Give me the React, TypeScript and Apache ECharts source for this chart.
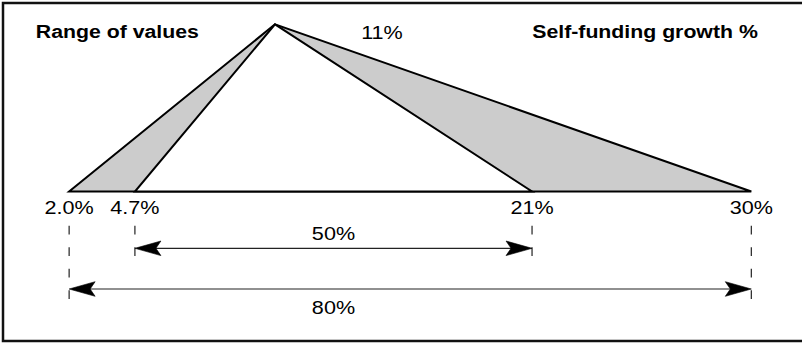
import React, { useEffect, useRef } from 'react';
import * as echarts from 'echarts';

// ---- data ----
const baseValues = [2.0, 4.7, 21, 30];
const baseLabels = ['2.0%', '4.7%', '21%', '30%'];
const outerRange = [2.0, 30];
const innerRange = [4.7, 21];
const apexPosition = 10.45; // where the apex sits on the growth scale
const apexLabel = '11%';
const spanLabels = ['50%', '80%'];
const spanFrom = [4.7, 2.0];
const spanTo = [21, 30];
const leftTitle = 'Range of values';
const rightTitle = 'Self-funding growth %';

// ---- layout constants ----
const W = 802;
const H = 343;
const X0 = 20.4;
const PX_PER = 24.364;
const XMAX = 32;
const BASE_Y = 191.5;
const APEX_Y = 24.3;
const FONT = '"Liberation Sans", Arial, Helvetica, sans-serif';
const REG_SIZE = 18;
const REG_SCALE = 1.2;
const BOLD_SIZE = 18.5;
const BOLD_SCALE = 1.15;
const LABEL_DY = 16.5;
const DASH_START_DY = 34.2;
const ROW_DY = [56.8, 97.5];
const ROW_LABEL_DY = [-14.3, 19];
const GRAY = '#cccccc';
const INK = '#000';

function regText(text: string, x: number, y: number) {
  return {
    type: 'text',
    x,
    y,
    scaleX: REG_SCALE,
    style: {
      text,
      fill: INK,
      fontFamily: FONT,
      fontSize: REG_SIZE,
      fontWeight: 'normal',
      align: 'center',
      verticalAlign: 'middle',
    },
  };
}

function arrowHead(tipX: number, y: number, dir: number) {
  // dir = 1 -> head pointing left (body to the right), -1 -> pointing right
  return {
    type: 'polygon',
    shape: {
      points: [
        [tipX, y],
        [tipX + dir * 26, y - 7.3],
        [tipX + dir * 21, y],
        [tipX + dir * 26, y + 7.3],
      ],
    },
    style: { fill: '#000', stroke: '#000', lineWidth: 0.6, lineJoin: 'miter' },
  };
}

export default function App() {
  const ref = useRef<HTMLDivElement>(null);

  useEffect(() => {
    if (!ref.current) return;
    const chart = echarts.init(ref.current, undefined, { renderer: 'svg' });

    const option: any = {
      animation: false,
      backgroundColor: '#ffffff',
      grid: {
        left: X0,
        right: W - X0 - XMAX * PX_PER,
        top: APEX_Y,
        bottom: H - BASE_Y,
      },
      xAxis: { type: 'value', min: 0, max: XMAX, show: false },
      yAxis: { type: 'value', min: 0, max: 1, show: false },
      graphic: [
        {
          type: 'rect',
          shape: { x: 3, y: 3, width: 820, height: 338 },
          style: { fill: 'none', stroke: '#111', lineWidth: 2.5 },
          z: 10,
        },
        {
          type: 'text',
          x: 117.3,
          y: 31.7,
          scaleX: BOLD_SCALE,
          style: {
            text: leftTitle,
            fill: INK,
            fontFamily: FONT,
            fontSize: BOLD_SIZE,
            fontWeight: 'bold',
            align: 'center',
            verticalAlign: 'middle',
          },
        },
        {
          type: 'text',
          x: 645,
          y: 31.7,
          scaleX: BOLD_SCALE,
          style: {
            text: rightTitle,
            fill: INK,
            fontFamily: FONT,
            fontSize: BOLD_SIZE,
            fontWeight: 'bold',
            align: 'center',
            verticalAlign: 'middle',
          },
        },
        {
          type: 'text',
          x: 382,
          y: 32.5,
          scaleX: REG_SCALE,
          style: {
            text: apexLabel,
            fill: INK,
            fontFamily: FONT,
            fontSize: REG_SIZE,
            fontWeight: 'normal',
            align: 'center',
            verticalAlign: 'middle',
          },
        },
      ],
      series: [
        {
          type: 'custom',
          name: 'triangle',
          data: [[apexPosition, 1]],
          encode: { x: 0, y: 1 },
          renderItem: (_params: any, api: any) => {
            const apex = api.coord([api.value(0), api.value(1)]);
            const oL = api.coord([outerRange[0], 0]);
            const oR = api.coord([outerRange[1], 0]);
            const iL = api.coord([innerRange[0], 0]);
            const iR = api.coord([innerRange[1], 0]);
            return {
              type: 'group',
              children: [
                {
                  type: 'polygon',
                  shape: { points: [apex, oL, oR] },
                  style: { fill: GRAY, stroke: '#000', lineWidth: 2, lineJoin: 'miter' },
                },
                {
                  type: 'polygon',
                  shape: { points: [apex, iL, iR] },
                  style: { fill: '#fff', stroke: '#000', lineWidth: 2, lineJoin: 'miter' },
                },
              ],
            };
          },
        },
        {
          type: 'custom',
          name: 'baseLabels',
          data: baseValues.map((v, i) => [v, 0, i]),
          encode: { x: 0, y: 1 },
          renderItem: (_params: any, api: any) => {
            const v = api.value(0);
            const i = api.value(2);
            const p = api.coord([v, 0]);
            const children: any[] = [regText(baseLabels[i], p[0], p[1] + LABEL_DY)];
            let row = -1;
            spanFrom.forEach((f, j) => {
              if (f === v || spanTo[j] === v) row = Math.max(row, j);
            });
            if (row >= 0) {
              children.push({
                type: 'line',
                shape: {
                  x1: p[0],
                  y1: p[1] + DASH_START_DY,
                  x2: p[0],
                  y2: p[1] + ROW_DY[row] + 10,
                },
                style: { stroke: '#222', lineWidth: 1.2, lineDash: [8.7, 12.8] },
              });
            }
            return { type: 'group', children };
          },
        },
        {
          type: 'custom',
          name: 'spans',
          data: spanFrom.map((f, i) => [f, spanTo[i], i]),
          encode: { x: 0 },
          renderItem: (_params: any, api: any) => {
            const i = api.value(2);
            const a = api.coord([api.value(0), 0]);
            const b = api.coord([api.value(1), 0]);
            const y = a[1] + ROW_DY[i];
            const mid = api.coord([(spanFrom[0] + spanTo[0]) / 2, 0]);
            return {
              type: 'group',
              children: [
                {
                  type: 'line',
                  shape: { x1: a[0] + 12, y1: y, x2: b[0] - 12, y2: y },
                  style: { stroke: '#222', lineWidth: 1.2 },
                },
                arrowHead(a[0], y, 1),
                arrowHead(b[0], y, -1),
                regText(spanLabels[i], mid[0], y + ROW_LABEL_DY[i]),
              ],
            };
          },
        },
      ],
    };

    chart.setOption(option);
    return () => {
      chart.dispose();
    };
  }, []);

  return (
    <div
      ref={ref}
      style={{ position: 'absolute', left: 0, top: 0, width: W, height: H, background: '#fff' }}
    />
  );
}
